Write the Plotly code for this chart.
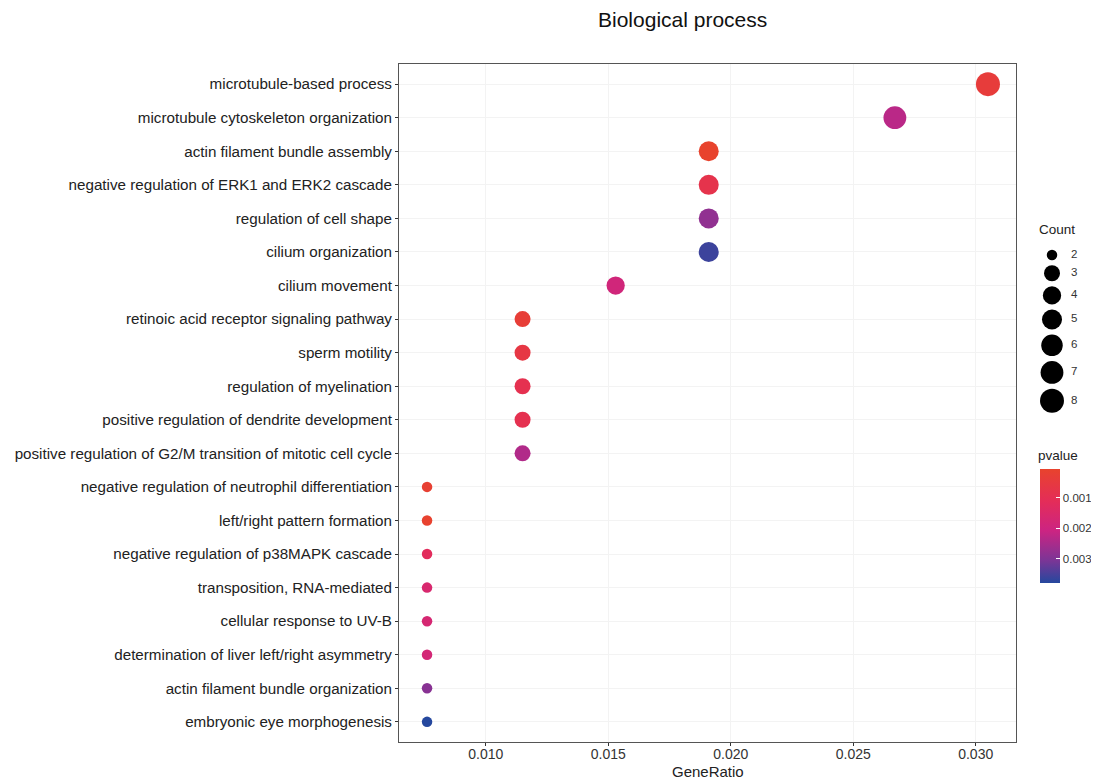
import plotly.graph_objects as go
import numpy as np

terms = [
    "microtubule-based process",
    "microtubule cytoskeleton organization",
    "actin filament bundle assembly",
    "negative regulation of ERK1 and ERK2 cascade",
    "regulation of cell shape",
    "cilium organization",
    "cilium movement",
    "retinoic acid receptor signaling pathway",
    "sperm motility",
    "regulation of myelination",
    "positive regulation of dendrite development",
    "positive regulation of G2/M transition of mitotic cell cycle",
    "negative regulation of neutrophil differentiation",
    "left/right pattern formation",
    "negative regulation of p38MAPK cascade",
    "transposition, RNA-mediated",
    "cellular response to UV-B",
    "determination of liver left/right asymmetry",
    "actin filament bundle organization",
    "embryonic eye morphogenesis",
]
counts = [8, 7, 5, 5, 5, 5, 4, 3, 3, 3, 3, 3, 2, 2, 2, 2, 2, 2, 2, 2]
gene_ratio = [0.0305, 0.0267, 0.0191, 0.0191, 0.0191, 0.0191, 0.0153,
              0.0115, 0.0115, 0.0115, 0.0115, 0.0115,
              0.0076, 0.0076, 0.0076, 0.0076, 0.0076, 0.0076, 0.0076, 0.0076]
pvalues = [0.0004, 0.0023, 0.00005, 0.0008, 0.0028, 0.0036, 0.0019,
           0.0003, 0.0006, 0.0009, 0.0009, 0.0024,
           0.0002, 0.0001, 0.0012, 0.0016, 0.0017, 0.0018, 0.0029, 0.0038]
legend_counts = [2, 3, 4, 5, 6, 7, 8]
pvalue_ticks = [0.001, 0.002, 0.003]
x_ticks = [0.010, 0.015, 0.020, 0.025, 0.030]

FONT = "Liberation Sans, Arial, sans-serif"
OFF = 8                      # page body margin in the browser
W, H = 1099 - OFF, 780 - OFF
# page-pixel geometry of the panel
P_LEFT, P_RIGHT, P_TOP, P_BOTTOM = 399, 1016, 64, 742
ML = P_LEFT - OFF
MT = P_TOP - OFF
MB = H - (P_BOTTOM - OFF)
MR = 8
PW = W - ML - MR
PH = H - MT - MB


def px_x(p):
    """page pixel x -> paper fraction"""
    return (p - OFF - ML) / PW


def px_y(p):
    """page pixel y -> paper fraction"""
    return (H - MB - (p - OFF)) / PH


def diam(c):
    return 10.5 + 5.5 * np.sqrt(np.asarray(c, dtype=float) - 2)


# colourscale: blue (high p) -> red (low p); colour value is -p so low p sits on top
cscale = [[0.0, "#25489E"], [0.2, "#7C3596"], [0.46, "#CC2482"],
          [0.72, "#E42D58"], [1.0, "#E8432D"]]
neg_p = [-p for p in pvalues]

span = max(gene_ratio) - min(gene_ratio)
xr = [min(gene_ratio) - 0.05 * span, max(gene_ratio) + 0.05 * span]

fig = go.Figure()
fig.add_trace(go.Scatter(
    x=gene_ratio, y=terms, mode="markers",
    customdata=np.stack([counts, pvalues], axis=1),
    hovertemplate="%{y}<br>GeneRatio=%{x}<br>Count=%{customdata[0]}<br>pvalue=%{customdata[1]}<extra></extra>",
    marker=dict(
        size=diam(counts), color=neg_p, colorscale=cscale,
        cmin=-max(pvalues), cmax=-min(pvalues), opacity=1,
        line=dict(width=0),
        colorbar=dict(
            x=px_x(1040), xanchor="left",
            y=px_y(526), yanchor="middle",
            len=114, lenmode="pixels", thickness=20,
            outlinewidth=0, ticks="inside", ticklen=4, tickcolor="white",
            tickvals=[-t for t in pvalue_ticks],
            ticktext=[f"{t:.3f}" for t in pvalue_ticks],
            tickfont=dict(family=FONT, size=11.5, color="#333"),
            ypad=0, xpad=0,
        ),
    ),
    showlegend=False,
))

# size legend ("Count") drawn in a small overlay axis measured in page pixels
centers = []
y = 255.0
ds = diam(legend_counts)
for i, d in enumerate(ds):
    if i > 0:
        y += (ds[i - 1] + d) / 2 + 5
    centers.append(y)
fig.add_trace(go.Scatter(
    x=[1052] * len(legend_counts), y=centers, mode="markers",
    marker=dict(size=ds, color="#000000", opacity=1, line=dict(width=0)),
    xaxis="x2", yaxis="y2", hoverinfo="skip", showlegend=False, cliponaxis=False,
))
fig.add_trace(go.Scatter(
    x=[1071] * len(legend_counts), y=centers, mode="text",
    text=[str(c) for c in legend_counts], textposition="middle right",
    textfont=dict(family=FONT, size=11.5, color="#333"),
    xaxis="x2", yaxis="y2", hoverinfo="skip", showlegend=False, cliponaxis=False,
))

axis_common = dict(showline=True, linecolor="#555", linewidth=1, mirror=True,
                   ticks="outside", ticklen=3, tickcolor="#333", automargin=False,
                   showgrid=True, gridcolor="#f3f3f3", gridwidth=1, zeroline=False)

fig.update_layout(
    template="none",
    width=W, height=H,
    margin=dict(l=ML, r=MR, t=MT, b=MB, autoexpand=False),
    paper_bgcolor="white", plot_bgcolor="white",
    font=dict(family=FONT, color="#222"),
    xaxis=dict(domain=[0, px_x(P_RIGHT)], range=xr,
               tickvals=x_ticks, tickformat=".3f", ticklabelstandoff=-4,
               tickfont=dict(family=FONT, size=14, color="#333"),
               **axis_common),
    yaxis=dict(categoryorder="array", categoryarray=terms,
               range=[len(terms) - 0.4, -0.6],
               tickfont=dict(family=FONT, size=15.2, color="#222"),
               **axis_common),
    xaxis2=dict(domain=[px_x(1035), px_x(1085)], range=[1035, 1085],
                visible=False, anchor="y2", fixedrange=True, automargin=False),
    yaxis2=dict(domain=[px_y(420), px_y(240)], range=[420, 240],
                visible=False, anchor="x2", fixedrange=True, automargin=False),
    annotations=[
        dict(text="Biological process", x=px_x(682), y=px_y(19),
             xref="paper", yref="paper", xanchor="center", yanchor="middle",
             showarrow=False, font=dict(family=FONT, size=21, color="#111")),
        dict(text="GeneRatio", x=px_x((P_LEFT + P_RIGHT) / 2), y=px_y(771),
             xref="paper", yref="paper", xanchor="center", yanchor="middle",
             showarrow=False, font=dict(family=FONT, size=15, color="#222")),
        dict(text="Count", x=px_x(1037), y=px_y(229),
             xref="paper", yref="paper", xanchor="left", yanchor="middle",
             showarrow=False, font=dict(family=FONT, size=13.5, color="#222")),
        dict(text="pvalue", x=px_x(1036), y=px_y(456),
             xref="paper", yref="paper", xanchor="left", yanchor="middle",
             showarrow=False, font=dict(family=FONT, size=13.5, color="#222")),
    ],
)

fig.write_html("out.html")
